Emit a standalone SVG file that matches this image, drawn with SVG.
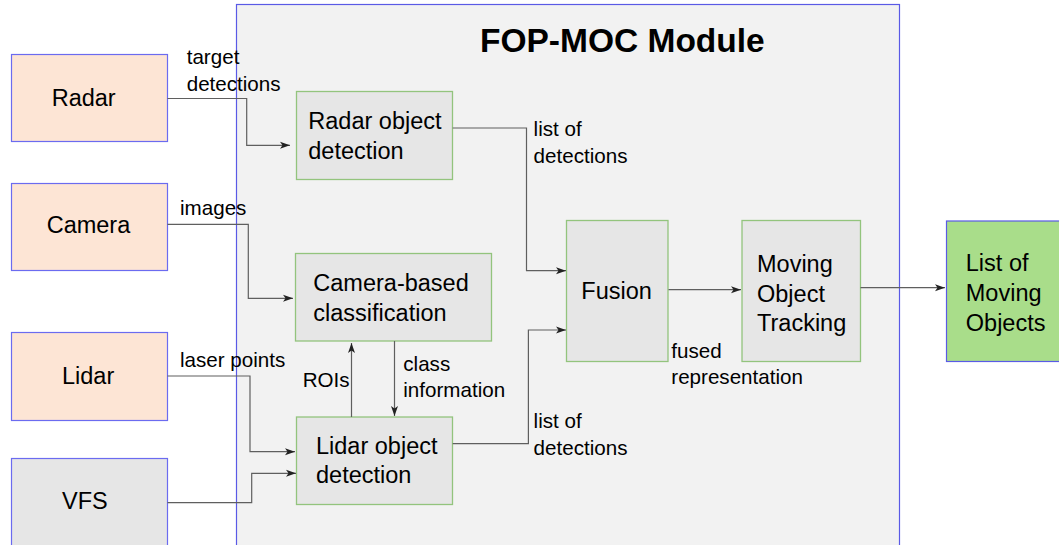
<svg xmlns="http://www.w3.org/2000/svg" width="1059" height="545" viewBox="0 0 1059 545">
<defs>
<style>
.src{fill:#fde5d5;stroke:#6b6bf0;stroke-width:1.2}
.gray{fill:#e6e6e6;stroke:#6b6bf0;stroke-width:1.2}
.proc{fill:#e6e6e6;stroke:#93c47d;stroke-width:1.3}
.out{fill:#a9dd8a;stroke:#5a5ae6;stroke-width:1.2}
.mod{fill:#f2f2f2;stroke:#5a5ae6;stroke-width:1.2}
.n{font-family:"Liberation Sans",Arial,sans-serif;font-size:23.5px;fill:#000}
.l{font-family:"Liberation Sans",Arial,sans-serif;font-size:20.6px;fill:#000}
.t{font-family:"Liberation Sans",Arial,sans-serif;font-size:33.5px;font-weight:bold;fill:#000}
.c{fill:none;stroke:#5f5f5f;stroke-width:1.2;marker-end:url(#ah)}
</style>
<marker id="ah" markerUnits="userSpaceOnUse" markerWidth="11" markerHeight="8" refX="10" refY="4" orient="auto">
<path d="M0,0.5 L10,4 L0,7.5 L2.5,4 z" fill="#222"/>
</marker>
</defs>
<rect x="0" y="0" width="1059" height="545" fill="#ffffff"/>
<g id="module">
<rect class="mod" x="236.5" y="4.5" width="663" height="545"/>
<text class="t" x="480" y="51.7">FOP-MOC Module</text>
</g>
<g id="radar">
<rect class="src" x="11.5" y="54.5" width="156" height="87"/>
<text class="n" x="51.7" y="105.7">Radar</text>
</g>
<g id="camera">
<rect class="src" x="11.5" y="183.5" width="156" height="87"/>
<text class="n" x="46.7" y="233.3">Camera</text>
</g>
<g id="lidar">
<rect class="src" x="11.5" y="332.5" width="156" height="88"/>
<text class="n" x="62" y="384">Lidar</text>
</g>
<g id="vfs">
<rect class="gray" x="11.5" y="458.5" width="156" height="95"/>
<text class="n" x="62" y="509">VFS</text>
</g>
<g id="radar-det">
<rect class="proc" x="296.5" y="91.5" width="156" height="88"/>
<text class="n" x="308.3" y="129.3">Radar object</text>
<text class="n" x="308.3" y="159.3">detection</text>
</g>
<g id="camera-cls">
<rect class="proc" x="295.5" y="253.5" width="196" height="87.5"/>
<text class="n" x="313.3" y="291">Camera-based</text>
<text class="n" x="313.3" y="321">classification</text>
</g>
<g id="lidar-det">
<rect class="proc" x="296.5" y="417" width="156" height="87.5"/>
<text class="n" x="316" y="454.3">Lidar object</text>
<text class="n" x="316" y="483.3">detection</text>
</g>
<g id="fusion">
<rect class="proc" x="566.5" y="220.5" width="101.5" height="141"/>
<text class="n" x="581.3" y="299.3">Fusion</text>
</g>
<g id="mot">
<rect class="proc" x="742" y="220.5" width="118.5" height="141"/>
<text class="n" x="757" y="271.7">Moving</text>
<text class="n" x="757" y="301.7">Object</text>
<text class="n" x="757" y="330.5">Tracking</text>
</g>
<g id="list">
<rect class="out" x="946.5" y="221" width="120" height="140.5"/>
<text class="n" x="965.8" y="271">List of</text>
<text class="n" x="965.8" y="301">Moving</text>
<text class="n" x="965.8" y="330.5">Objects</text>
</g>
<g id="connectors">
<path class="c" d="M167.5,98.5 H246.7 V145.3 H290"/>
<path class="c" d="M167.5,224.3 H248.3 V298.3 H293"/>
<path class="c" d="M167.5,376 H250 V451.7 H295"/>
<path class="c" d="M167.5,502.7 H251.7 V473.3 H296"/>
<path class="c" d="M351.5,417 V343"/>
<path class="c" d="M394.5,341 V416"/>
<path class="c" d="M452.7,128 H526.5 V270.7 H566"/>
<path class="c" d="M452.7,443.7 H528.4 V330 H566"/>
<path class="c" d="M668.5,289.7 H741"/>
<path class="c" d="M860.5,287.7 H945"/>
</g>
<g id="labels">
<text class="l" x="186.7" y="64.3">target</text>
<text class="l" x="186.7" y="90.7">detections</text>
<text class="l" x="180" y="215">images</text>
<text class="l" x="180" y="366.7">laser points</text>
<text class="l" x="302.7" y="386.7">ROIs</text>
<text class="l" x="403.3" y="370.7">class</text>
<text class="l" x="403.3" y="397">information</text>
<text class="l" x="533.6" y="136">list of</text>
<text class="l" x="533.6" y="162.7">detections</text>
<text class="l" x="533.6" y="428.3">list of</text>
<text class="l" x="533.6" y="455">detections</text>
<text class="l" x="671.3" y="357.7">fused</text>
<text class="l" x="671.3" y="384">representation</text>
</g>
</svg>
